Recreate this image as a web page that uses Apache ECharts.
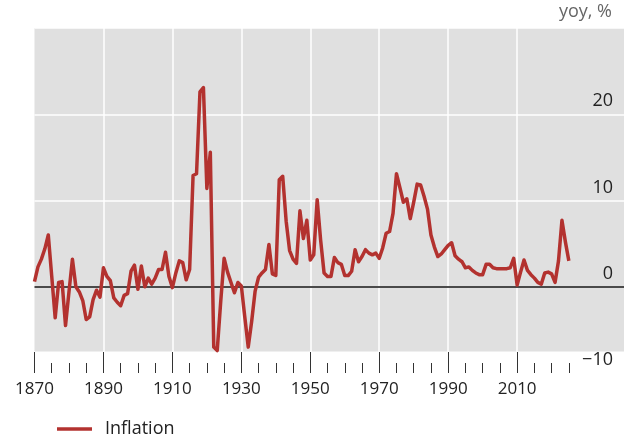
<!DOCTYPE html>
<html>
<head>
<meta charset="utf-8">
<script src="https://cdn.jsdelivr.net/npm/echarts@6/dist/echarts.min.js"></script>
<style>
html, body { margin: 0; padding: 0; background: #fff; }
#chart { width: 630px; height: 447px; }
</style>
</head>
<body>
<div id="chart"></div>
<script>
// annual inflation, yoy %, 1870 .. 2025
const inflation = [
    0.6, 2.3, 3.2, 4.4, 6.0, 1.2, -3.6, 0.5, 0.6, -4.5,
    -0.6, 3.2, 0.0, -0.6, -1.6, -3.8, -3.5, -1.5, -0.4, -1.2,
    2.2, 1.2, 0.7, -1.3, -1.8, -2.2, -1.0, -0.8, 1.8, 2.5,
    -0.3, 2.4, 0.0, 1.0, 0.3, 1.0, 2.0, 2.0, 4.0, 1.2,
    -0.1, 1.6, 3.0, 2.8, 0.8, 2.0, 12.9, 13.1, 22.6, 23.1,
    11.4, 15.6, -7.0, -7.4, -1.8, 3.3, 1.7, 0.5, -0.7, 0.5,
    0.1, -3.5, -7.0, -4.0, -0.5, 1.1, 1.6, 2.0, 4.9, 1.5,
    1.3, 12.4, 12.8, 7.6, 4.2, 3.2, 2.7, 8.8, 5.6, 7.7,
    3.1, 3.7, 10.1, 5.4, 1.6, 1.2, 1.2, 3.4, 2.8, 2.6,
    1.3, 1.3, 1.8, 4.3, 2.9, 3.5, 4.3, 3.9, 3.7, 3.9,
    3.3, 4.5, 6.2, 6.4, 8.5, 13.1, 11.5, 9.8, 10.2, 7.9,
    9.8, 11.9, 11.8, 10.5, 9.0, 6.0, 4.6, 3.5, 3.8, 4.3,
    4.8, 5.1, 3.6, 3.2, 2.9, 2.2, 2.3, 1.9, 1.6, 1.4,
    1.4, 2.6, 2.6, 2.2, 2.1, 2.1, 2.1, 2.1, 2.2, 3.3,
    0.2, 1.7, 3.1, 1.9, 1.4, 1.0, 0.5, 0.3, 1.6, 1.7,
    1.5, 0.5, 3.0, 7.7, 5.2, 3.0
]
const firstYear = 1870
const lastAxisYear = 2041

const labelYears = [1870, 1890, 1910, 1930, 1950, 1970, 1990, 2010]
const minorTickYears = [1875, 1880, 1885, 1895, 1900, 1905, 1915, 1920, 1925,
    1935, 1940, 1945, 1955, 1960, 1965, 1975, 1980, 1985, 1995, 2000, 2005,
    2015, 2020, 2025]
const yTicks = [-10, 0, 10, 20]

const axisYears = []
for (let y = firstYear; y <= lastAxisYear; y++) axisYears.push(String(y))

const textColor = '#222'
const font = 'Open Sans'
const lineColor = '#b3322f'

const chart = echarts.init(document.getElementById('chart'), null, { renderer: 'canvas' })

// base settings shared by the stacked x axes
function yearAxis(extra) {
    return Object.assign({
        type: 'category',
        data: axisYears,
        boundaryGap: false,
        position: 'bottom',
        axisLine: { show: false },
        axisTick: { show: false },
        axisLabel: { show: false },
        splitLine: { show: false }
    }, extra)
}

chart.setOption({
    animation: false,
    title: {
        text: 'yoy, %',
        right: 18,
        top: 3,
        padding: 0,
        textStyle: { fontFamily: font, fontSize: 18, fontWeight: 'normal', color: '#666' }
    },
    legend: {
        data: ['Inflation'],
        left: 57,
        top: 420,
        padding: 0,
        icon: 'rect',
        itemWidth: 35,
        itemHeight: 3.5,
        textStyle: { fontFamily: font, fontSize: 18, color: textColor, padding: [0, 0, 0, 8] }
    },
    grid: {
        left: 34.5,
        right: 6,
        top: 28,
        bottom: 74
    },
    xAxis: [
        // vertical grid lines
        yearAxis({
            splitLine: {
                show: true,
                interval: (i, v) => labelYears.includes(+v) && +v > firstYear,
                lineStyle: { color: '#ffffff', width: 1.5 }
            }
        }),
        // labels
        yearAxis({
            z: 3,
            axisLabel: {
                show: true,
                interval: (i, v) => labelYears.includes(+v),
                margin: 8,
                color: textColor,
                fontFamily: font,
                fontSize: 17
            }
        }),
        // long ticks
        yearAxis({
            z: 3,
            axisTick: {
                show: true,
                inside: true,
                length: 21,
                interval: (i, v) => labelYears.includes(+v),
                lineStyle: { color: '#333', width: 1 }
            }
        }),
        // short ticks every five years
        yearAxis({
            z: 3,
            axisTick: {
                show: true,
                inside: true,
                length: 10,
                interval: (i, v) => minorTickYears.includes(+v),
                lineStyle: { color: '#333', width: 1 }
            }
        })
    ],
    yAxis: {
        type: 'value',
        position: 'right',
        min: -10,
        max: 30,
        interval: 10,
        axisLine: { show: false },
        axisTick: { show: false },
        axisLabel: {
            inside: true,
            margin: 11,
            verticalAlign: 'bottom',
            padding: [0, 0, 4, 0],
            color: textColor,
            fontFamily: font,
            fontSize: 18,
            formatter: v => yTicks.includes(v) ? (v < 0 ? '\u2212' + Math.abs(v) : String(v)) : ''
        },
        splitLine: {
            lineStyle: { color: '#ffffff', width: 1.5 }
        }
    },
    series: [{
        // grey plot background, under the axes
        type: 'line',
        data: [],
        silent: true,
        markArea: {
            z: -1,
            silent: true,
            itemStyle: { color: '#e0e0e0' },
            data: [[{ yAxis: -7.5 }, { yAxis: 30 }]]
        },
        markLine: {
            z: 1,
            silent: true,
            symbol: 'none',
            label: { show: false },
            lineStyle: { color: '#4a4a4a', width: 2, type: 'solid' },
            data: [{ yAxis: 0 }]
        }
    }, {
        name: 'Inflation',
        type: 'line',
        data: inflation,
        symbol: 'none',
        z: 2,
        itemStyle: { color: lineColor },
        lineStyle: { color: lineColor, width: 3.5, join: 'round' }
    }]
})
</script>
</body>
</html>
